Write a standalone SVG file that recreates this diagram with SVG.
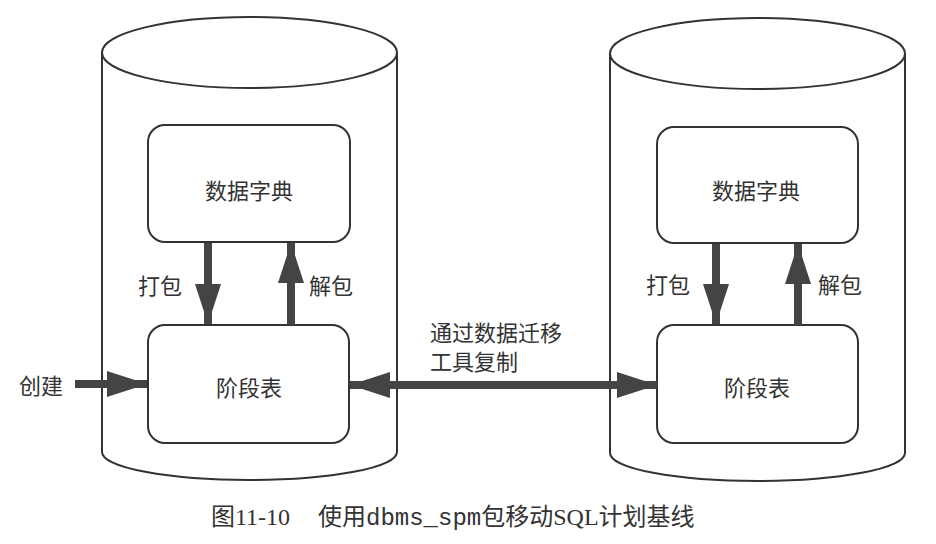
<svg xmlns="http://www.w3.org/2000/svg" width="936" height="544" viewBox="0 0 936 544">
<defs>
<style>
.cyl{fill:none;stroke:#333;stroke-width:2}
.box{fill:#fff;stroke:#333;stroke-width:2}
.lbl{font-family:"Noto Sans CJK SC","Noto Sans",sans-serif;font-size:22px;fill:#333;dominant-baseline:central}
.cap{font-family:"Liberation Serif","Noto Sans CJK SC",serif;font-size:24px;fill:#333}
.mono{font-family:"Liberation Mono","Noto Sans CJK SC",monospace}
.shaft{stroke:#444;stroke-width:8;fill:none}
</style>
<marker id="ah" viewBox="0 0 40 26" refX="40" refY="13" markerWidth="40" markerHeight="26" markerUnits="userSpaceOnUse" orient="auto-start-reverse">
<path d="M0,0 L40,13 L0,26 Z" fill="#444"/>
</marker>
</defs>
<rect width="936" height="544" fill="#fff"/>
<g id="db-left">
<path class="cyl" d="M102,52 L102,452 A147.5,28 0 0 0 397,452 L397,52"/>
<ellipse class="cyl" cx="249.5" cy="52.5" rx="147.5" ry="35.5"/>
</g>
<g id="db-right">
<path class="cyl" d="M610,53 L610,453 A147.5,28 0 0 0 905,453 L905,53"/>
<ellipse class="cyl" cx="757.5" cy="53.5" rx="147.5" ry="35.5"/>
</g>
<g id="dict-left">
<rect class="box" x="148" y="125" width="202" height="117" rx="17"/>
<text class="lbl" x="249" y="189" text-anchor="middle">数据字典</text>
</g>
<g id="stage-left">
<rect class="box" x="148" y="325" width="201" height="118" rx="17"/>
<text class="lbl" x="249" y="386" text-anchor="middle">阶段表</text>
</g>
<g id="dict-right">
<rect class="box" x="657" y="127" width="201" height="116" rx="17"/>
<text class="lbl" x="756" y="189" text-anchor="middle">数据字典</text>
</g>
<g id="stage-right">
<rect class="box" x="657" y="325" width="201" height="118" rx="17"/>
<text class="lbl" x="757" y="386" text-anchor="middle">阶段表</text>
</g>
<g id="connectors">
<line class="shaft" x1="208" y1="243" x2="208" y2="324" marker-end="url(#ah)"/>
<line class="shaft" x1="291" y1="325" x2="291" y2="243" marker-end="url(#ah)"/>
<line class="shaft" x1="75" y1="384" x2="147" y2="384" marker-end="url(#ah)"/>
<line class="shaft" x1="350" y1="385" x2="657" y2="385" marker-start="url(#ah)" marker-end="url(#ah)"/>
<line class="shaft" x1="716" y1="244" x2="716" y2="324" marker-end="url(#ah)"/>
<line class="shaft" x1="798" y1="325" x2="798" y2="244" marker-end="url(#ah)"/>
<text class="lbl" x="160" y="284" text-anchor="middle">打包</text>
<text class="lbl" x="331" y="284" text-anchor="middle">解包</text>
<text class="lbl" x="668" y="283" text-anchor="middle">打包</text>
<text class="lbl" x="840" y="283" text-anchor="middle">解包</text>
<text class="lbl" x="41" y="384" text-anchor="middle">创建</text>
<text class="lbl" x="430" y="331">通过数据迁移</text>
<text class="lbl" x="430" y="360">工具复制</text>
</g>
<text class="cap" x="211" y="525">图11-10</text>
<text class="cap" x="318" y="525">使用<tspan class="mono">dbms_spm</tspan>包移动SQL计划基线</text>
</svg>
